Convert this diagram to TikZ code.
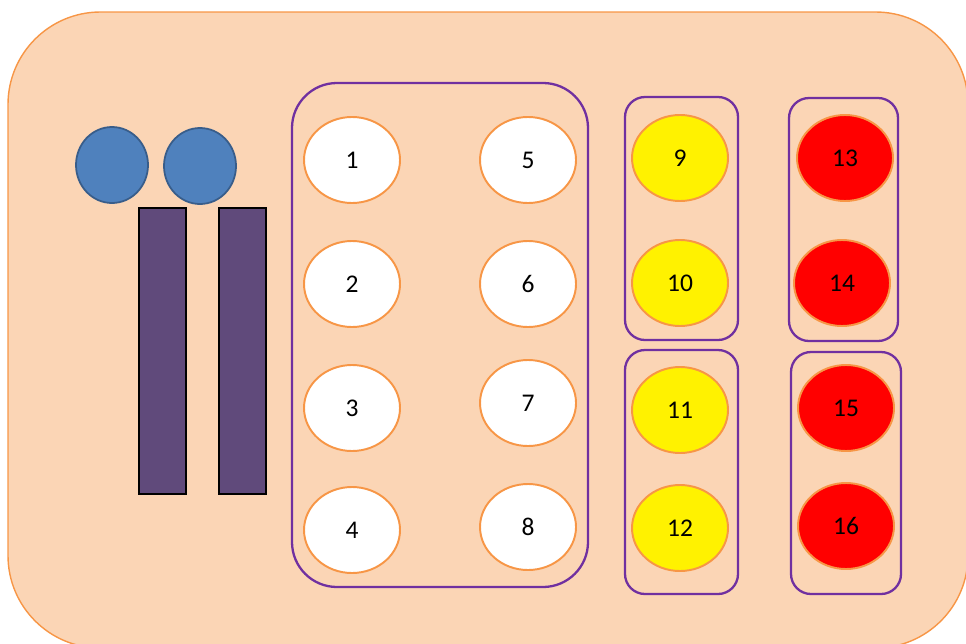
\documentclass[tikz,border=0pt]{standalone}
\usepackage{fontspec}
\setmainfont{Carlito}
\definecolor{peach}{HTML}{FBD5B5}
\definecolor{edgeorange}{HTML}{F79646}
\definecolor{boxpurple}{HTML}{7030A0}
\definecolor{headblue}{HTML}{4F81BD}
\definecolor{headedge}{HTML}{385D8A}
\definecolor{tailpurple}{HTML}{604A7B}
\usetikzlibrary{shapes.geometric, positioning}
\tikzset{
	slotnode/.style={
			ellipse,
			draw=edgeorange,
			line width=1.1pt,
			fill=white,
			minimum width=1.92cm,
			minimum height=1.72cm,
			inner sep=0pt,
			font=\fontsize{14.5}{17}\selectfont
		},
	yellownode/.style={
			slotnode,
			fill=yellow
		},
	rednode/.style={
			slotnode,
			fill=red
		},
	headnode/.style={
			ellipse,
			draw=headedge,
			line width=1pt,
			fill=headblue,
			minimum width=1.44cm,
			minimum height=1.52cm,
			inner sep=0pt
		},
	tailnode/.style={
			rectangle,
			draw=black,
			line width=0.8pt,
			fill=tailpurple,
			minimum width=0.94cm,
			minimum height=5.72cm,
			inner sep=0pt
		},
	groupbox/.style={
			rectangle,
			rounded corners=0.4cm,
			draw=boxpurple,
			line width=1.3pt,
			inner sep=0pt
		}
}

\begin{document}
\begin{tikzpicture}[x=0.2mm, y=-0.2mm]
\useasboundingbox (0,0) rectangle (966,643);
\begin{scope}
\clip (0,0) rectangle (966,643);
\draw[draw=edgeorange, fill=peach, line width=0.8pt, rounded corners=1.85cm]
	(8,12) rectangle (968,648);
\end{scope}

\node[headnode] (h1) at (112,165) {};
\node[headnode] (h2) at (200,166) {};
\node[tailnode] (t1) at (162.5,351) {};
\node[tailnode] (t2) at (242.5,351) {};

\node[groupbox, rounded corners=0.9cm, minimum width=5.92cm, minimum height=10.08cm] (g1) at (440,335) {};
\node[groupbox, minimum width=2.26cm, minimum height=4.86cm] (g2) at (681.5,218.5) {};
\node[groupbox, minimum width=2.26cm, minimum height=4.88cm] (g3) at (681.5,472) {};
\node[groupbox, minimum width=2.18cm, minimum height=4.86cm] (g4) at (843.5,219.5) {};
\node[groupbox, minimum width=2.2cm, minimum height=4.84cm] (g5) at (846,473) {};

\node[slotnode] (c1) at (352,160) {1};
\node[slotnode] (c2) at (352,284) {2};
\node[slotnode] (c3) at (352,408) {3};
\node[slotnode] (c4) at (352,530) {4};
\node[slotnode] (c5) at (528,160) {5};
\node[slotnode] (c6) at (528,284) {6};
\node[slotnode] (c7) at (528,403) {7};
\node[slotnode] (c8) at (528,527) {8};

\node[yellownode] (c9) at (680,158) {9};
\node[yellownode] (c10) at (680,283) {10};
\node[yellownode] (c11) at (680,410) {11};
\node[yellownode] (c12) at (680,528) {12};

\node[rednode] (c13) at (845,158) {13};
\node[rednode] (c14) at (842,283) {14};
\node[rednode] (c15) at (846,408) {15};
\node[rednode] (c16) at (846,526) {16};

\end{tikzpicture}
\end{document}
